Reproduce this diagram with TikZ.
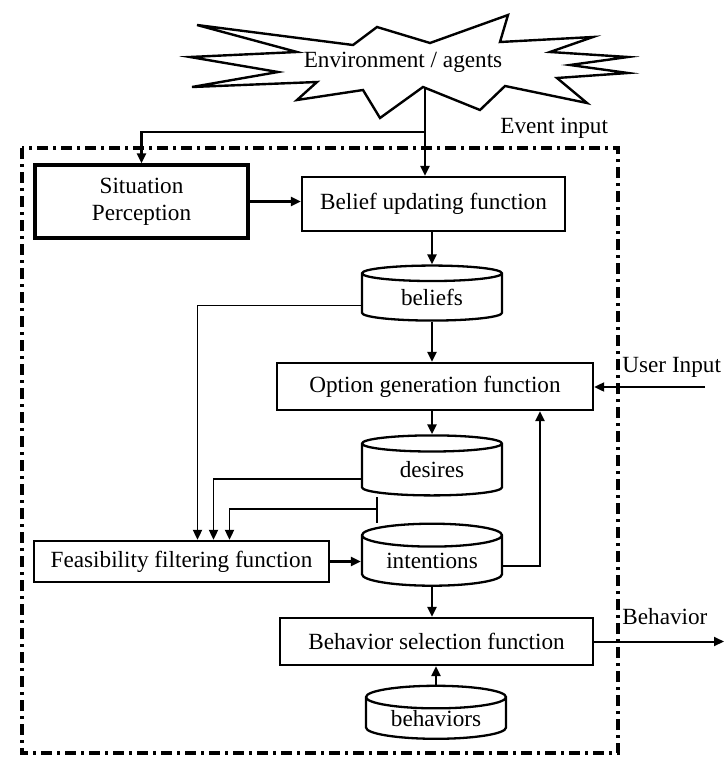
\documentclass[tikz,border=0pt]{standalone}
\usepackage{fontspec}
\setmainfont{Liberation Serif}
\usetikzlibrary{shapes.geometric,arrows.meta}

\begin{document}
\begin{tikzpicture}[
    x=0.5pt, y=-0.5pt,
    >={Triangle[length=5pt,width=4.5pt]},
    every node/.style={font=\fontsize{11.6pt}{13.5pt}\selectfont, inner sep=0pt},
    func/.style={draw, line width=1.15pt, rectangle},
    store/.style={draw, line width=1.15pt, cylinder, shape border rotate=90,
      aspect=0.25, minimum width=70pt},
    flow/.style={->, line width=1.3pt},
    feed/.style={->, line width=0.9pt},
    tag/.style={anchor=west}
  ]
  \useasboundingbox (0,0) rectangle (725,760);

  % agent boundary
  \draw[line width=1.6pt, dash pattern=on 5.5pt off 2.5pt on 1.5pt off 2.5pt]
    (22,148) rectangle (618,753);

  % environment burst
  \draw[line width=1.2pt, fill=white]
    (197,25) -- (353,45) -- (377,27) -- (430,43) -- (508,15) -- (500,42)
    -- (593,37) -- (550,52) -- (628,57) -- (570,65) -- (628,73) -- (557,78)
    -- (587,103) -- (505,86) -- (480,110) -- (423,87) -- (380,118)
    -- (363,90) -- (297,100) -- (317,82) -- (192,87) -- (278,72)
    -- (190,57) -- (297,52) -- cycle;
  \node (env) at (403,62) {Environment / agents};
  \coordinate (envout) at (425,87);
  \coordinate (split) at (425,132);

  \node[func, line width=1.6pt, minimum width=106.5pt, minimum height=36.5pt, align=center]
    (sp) at (141.5,201.5) {Situation\\Perception};
  \node[func, minimum width=131.5pt, minimum height=27pt] (bu) at (433.5,204)
    {Belief updating function};
  \node[store, minimum height=27.5pt] (beliefs) at (432,297.5) {beliefs};
  \node[func, minimum width=158pt, minimum height=23.5pt] (og) at (435,386.5)
    {Option generation function};
  \node[store, minimum height=30pt] (desires) at (432,470) {desires};
  \node[store, minimum height=31pt] (intentions) at (432,561) {intentions};
  \node[func, minimum width=147.5pt, minimum height=20.5pt] (ff) at (181.5,561.5)
    {Feasibility filtering function};
  \node[func, minimum width=156.5pt, minimum height=23.5pt] (bs) at (436.5,641.5)
    {Behavior selection function};
  \node[store, minimum height=26.5pt] (behaviors) at (436,718.5) {behaviors};

  \node[tag] (evin) at (500,128) {Event input};
  \node[tag] (usin) at (622,367) {User Input};
  \node[tag] (bout-lbl) at (622,617) {Behavior};
  \coordinate (uin) at (705,387);
  \coordinate (bout) at (724,641.5);
  \coordinate (ret) at (540,566);
  \coordinate (ileft) at (377,509);

  % event input
  \draw[flow] (envout) -- (envout |- bu.north);
  \draw[flow] (split) -| (sp.north);
  \draw[flow] (sp.east) -- (sp.east -| bu.west);

  % main chain
  \draw[flow] (bu.south -| beliefs.north) -- (beliefs.north);
  \draw[flow] (beliefs.south) -- (beliefs.south |- og.north);
  \draw[flow] (og.south -| desires.north) -- (desires.north);
  \draw[flow] (ff.east) -- (ff.east -| intentions.west);
  \draw[flow] (intentions.east |- ret) -| (ret |- og.south);
  \draw[flow] (intentions.south) -- (intentions.south |- bs.north);
  \draw[flow] (behaviors.north) -- (behaviors.north |- bs.south);

  % inputs of the filter
  \draw[feed] ([yshift=-4pt]beliefs.west) -| ([xshift=8pt]ff.north);
  \draw[feed] ([yshift=-4.5pt]desires.west) -| ([xshift=16pt]ff.north);
  \draw[line width=0.9pt] (intentions.north -| ileft) -- (desires.south -| ileft);
  \draw[feed] (ileft) -| ([xshift=24pt]ff.north);

  % outside world
  \draw[line width=1pt, ->] (uin) -- (uin -| og.east);
  \draw[line width=1pt, ->] (bs.east) -- (bs.east -| bout);

\end{tikzpicture}
\end{document}
